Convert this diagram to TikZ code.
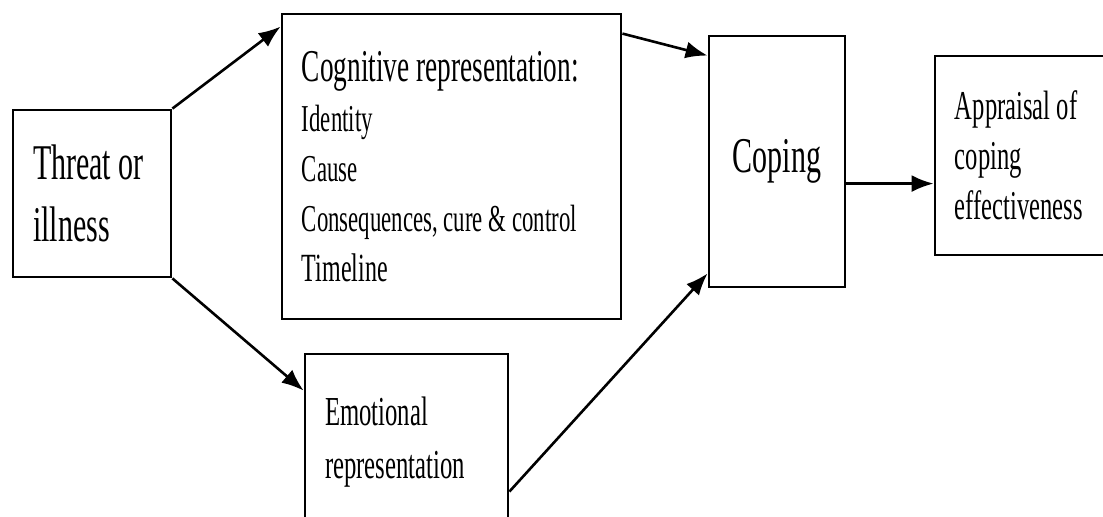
\documentclass[tikz,border=0pt]{standalone}
\usepackage{graphicx}
\usepackage{fontspec}
\setmainfont{Liberation Serif}
\usetikzlibrary{arrows.meta,calc}
% condensed text block: width before squeezing, then lines
\newcommand{\narrow}[2]{\scalebox{0.6}[1]{\parbox{#1}{\raggedright #2}}}
\newcommand{\fsz}[2]{\fontsize{#1}{#2}\selectfont}

\begin{document}
\begin{tikzpicture}[x=0.5pt, y=-0.5pt,
		box/.style={draw, line width=1.4pt, inner sep=0pt, inner xsep=10pt},
		arr/.style={line width=1.3pt, -{Latex[length=11pt,width=8.5pt]}}]
		
		% Fix the frame and cut what runs over it
		\useasboundingbox (0,0) rectangle (1103,517);
		\clip (0,0) rectangle (1103,517);
		
		% Draw the boxes
		\node[box, minimum height=83.5pt, font=\fsz{25}{31}] (threat) at (92,193.5) {\narrow{98.3pt}{Threat or\\illness}};
		\node[box, minimum height=152.5pt, font=\fsz{19}{25}] (cog) at (451.5,166.5)
		{\narrow{249.2pt}{{\fsz{22.75}{25}Cognitive representation:}\\Identity\\Cause\\Consequences, cure \& control\\{\fsz{20}{25}Timeline}}};
		\node[box, minimum height=88pt, font=\fsz{20.6}{26.5}] (emo) at (406.5,442) {\narrow{135.8pt}{Emotional\\representation}};
		\node[box, inner xsep=0pt, minimum width=68pt, minimum height=125.5pt, font=\fsz{25}{31}] (cop) at (777,161.5) {\scalebox{0.6}[1]{Coping}};
		\node[box, minimum height=99.5pt, font=\fsz{20.5}{25}] (appr) at (1025,155.5) {\narrow{116.7pt}{Appraisal of\\coping\\effectiveness}};
		
		% Draw the arrows between the boxes
		\draw[arr] (threat.north east) -- ($(cog.north west)+(0,14)$);
		\draw[arr] (threat.south east) -- ($(emo.north west)+(0,38)$);
		\draw[arr] ($(cog.north east)+(0,21)$) -- ($(cop.north west)+(0,21)$);
		\draw[arr] ($(emo.north east)+(0,139)$) -- ($(cop.south west)+(0,-15)$);
		\coordinate (copout) at ($(cop.north east)+(0,149)$);
		\draw[arr] (copout) -- (copout -| appr.west);
		
	\end{tikzpicture}
\end{document}
